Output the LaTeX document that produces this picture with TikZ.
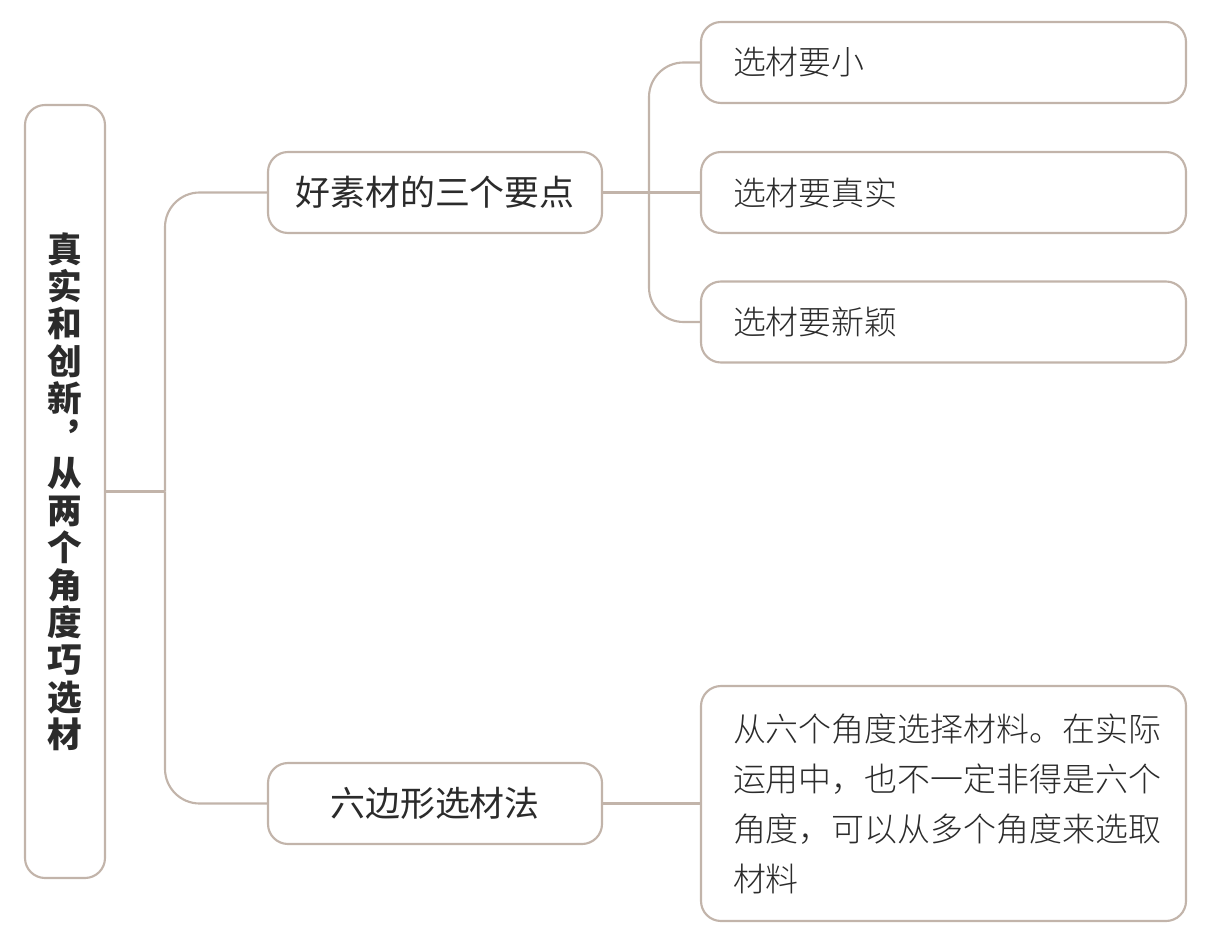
\documentclass[tikz,border=0pt]{standalone}
\usepackage{fontspec}
\setmainfont{Noto Sans CJK SC}
\newfontfamily\lightfont{Noto Sans CJK SC Light}
\definecolor{edge}{HTML}{C2B4AA}
\definecolor{ink}{HTML}{2B2B2B}
\tikzset{
  box/.style={draw=edge, line width=1.6pt, rounded corners=15pt, fill=white, text=ink, inner sep=0pt},
  link/.style={draw=edge, line width=1.6pt, rounded corners=26pt},
  leaftext/.style={font=\lightfont\fontsize{24.7pt}{37.5pt}\selectfont},
  midtext/.style={font=\fontsize{26.2pt}{30pt}\selectfont},
  leafbox/.style={box, leaftext, minimum width=363.75pt, text width=315.75pt, align=left},
}
\begin{document}
\begin{tikzpicture}[x=0.75pt,y=-0.75pt]
\useasboundingbox (0,0) rectangle (1207,941);
% root
\node[box, minimum width=60pt, minimum height=579.75pt, text width=60pt, align=center,
      font=\fontsize{26pt}{28pt}\selectfont\bfseries] (root) at (65,491.5)
  {真\\实\\和\\创\\新\\︐\\从\\两\\个\\角\\度\\巧\\选\\材};
% level 1
\node[box, midtext, minimum width=250.5pt, minimum height=60.75pt] (a) at (435,192.5) {好素材的三个要点};
\node[box, midtext, minimum width=250.5pt, minimum height=60.75pt] (b) at (435,803.5) {六边形选材法};
% leaves
\node[leafbox, minimum height=60.75pt] (l1) at (943.5,62.5) {选材要小};
\node[leafbox, minimum height=60.75pt] (l2) at (943.5,192.5) {选材要真实};
\node[leafbox, minimum height=60.75pt] (l3) at (943.5,322) {选材要新颖};
\node[leafbox, minimum height=176.25pt] (l4) at (943.5,803.5)
  {从六个角度选择材料。在实际\\运用中，也不一定非得是六个\\角度，可以从多个角度来选取\\材料};
% connectors
\coordinate (rj) at (165,491.5);
\draw[link] (root.east) -- (rj);
\draw[link] (a.west) -| (rj);
\draw[link] (b.west) -| (rj);
\coordinate (aj) at (649,192.5);
\draw[link] (a.east) -- (l2.west);
\draw[link] (l1.west) -| (aj);
\draw[link] (l3.west) -| (aj);
\draw[link] (b.east) -- (l4.west);
\end{tikzpicture}
\end{document}
